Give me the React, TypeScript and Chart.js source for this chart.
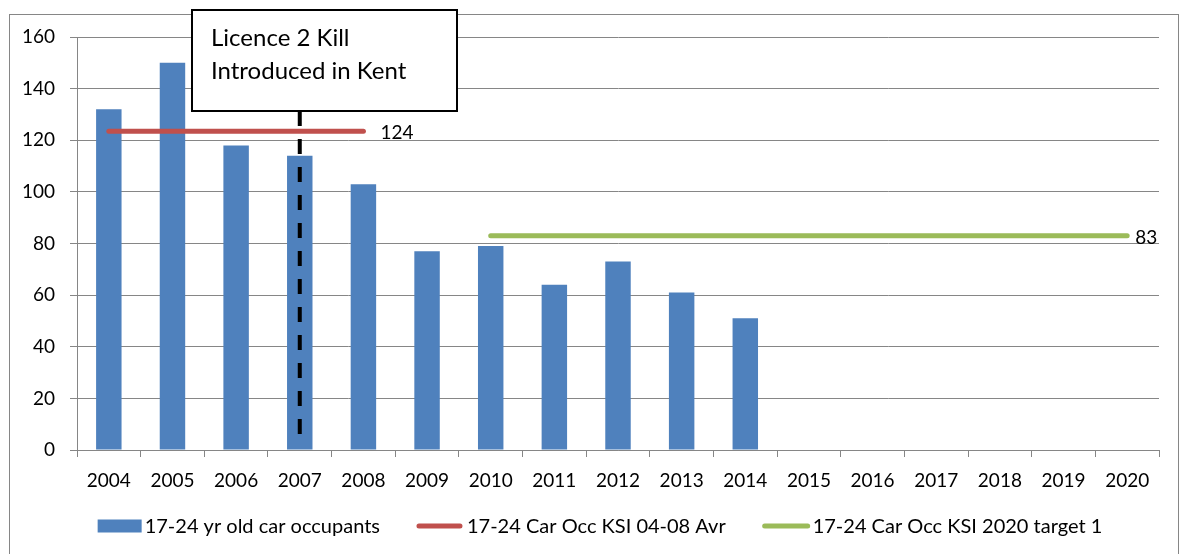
import React, { useEffect, useRef } from "react";
import { Chart, registerables } from "chart.js";

Chart.register(...registerables);

const years = ["2004", "2005", "2006", "2007", "2008", "2009", "2010", "2011", "2012", "2013", "2014", "2015", "2016", "2017", "2018", "2019", "2020"];
const occupants = [132, 150, 118, 114, 103, 77, 79, 64, 73, 61, 51, null, null, null, null, null, null];
const avg0408 = [123.5, 123.5, 123.5, 123.5, 123.5, null, null, null, null, null, null, null, null, null, null, null, null];
const target2020 = [null, null, null, null, null, null, 83, 83, 83, 83, 83, 83, 83, 83, 83, 83, 83];
const seriesNames = ["17-24 yr old car occupants", "17-24 Car Occ KSI 04-08 Avr", "17-24 Car Occ KSI 2020 target 1"];
const endLabels = [null, "124", "83"];
const yTickValues = [0, 20, 40, 60, 80, 100, 120, 140, 160];
const annotationLines = ["Licence 2 Kill", "Introduced in Kent"];
const markerYear = "2007";
const markerBottomValue = 6;

const FONT = "Lato, 'Open Sans', sans-serif";
const BLUE = "#4F81BD";
const RED = "#C0504D";
const GREEN = "#9BBB59";
const GRID = "#868686";

const framePlugin = {
  id: "frame",
  beforeDraw(chart: any) {
    const ctx = chart.ctx;
    ctx.save();
    ctx.fillStyle = "#ffffff";
    ctx.fillRect(0, 0, chart.width, chart.height);
    ctx.strokeStyle = GRID;
    ctx.lineWidth = 1;
    ctx.strokeRect(9.5, 14.5, 1169, 600);
    ctx.restore();
  },
};

const overlayPlugin = {
  id: "overlay",
  afterDatasetsDraw(chart: any) {
    const ctx = chart.ctx;
    const xs = chart.scales.x;
    const ys = chart.scales.y;
    ctx.save();
    ctx.font = `19px ${FONT}`;
    ctx.fillStyle = "#000";
    ctx.textBaseline = "middle";
    ctx.textAlign = "left";
    const offsets = [0, 17, 8];
    chart.data.datasets.forEach((ds: any, i: number) => {
      const lbl = endLabels[i];
      if (!lbl) return;
      let last = -1;
      ds.data.forEach((v: any, j: number) => { if (v != null) last = j; });
      if (last < 0) return;
      const x = xs.getPixelForValue(last) + offsets[i];
      const y = ys.getPixelForValue(ds.data[last]) + 2;
      ctx.fillText(lbl, x, y);
    });
    const mx = xs.getPixelForValue(years.indexOf(markerYear));
    ctx.strokeStyle = "#000";
    ctx.lineWidth = 4;
    ctx.setLineDash([15, 13]);
    ctx.beginPath();
    ctx.moveTo(mx, 111);
    ctx.lineTo(mx, ys.getPixelForValue(markerBottomValue));
    ctx.stroke();
    ctx.setLineDash([]);
    ctx.restore();
  },
  afterDraw(chart: any) {
    const ctx = chart.ctx;
    ctx.save();
    ctx.fillStyle = "#fff";
    ctx.fillRect(192, 10, 265, 101);
    ctx.strokeStyle = "#000";
    ctx.lineWidth = 2;
    ctx.strokeRect(192, 10, 265, 101);
    ctx.fillStyle = "#000";
    ctx.font = `24px ${FONT}`;
    ctx.textBaseline = "middle";
    ctx.textAlign = "left";
    ctx.fillText(annotationLines[0], 211, 38);
    ctx.fillText(annotationLines[1], 211, 71);

    ctx.font = `20px ${FONT}`;
    const ds = chart.data.datasets;
    const symW = [44, 45, 47];
    const symGap = [3, 5, 3];
    const itemGap = 37;
    const widths = ds.map((d: any, i: number) => symW[i] + symGap[i] + ctx.measureText(d.label).width);
    const total = widths.reduce((a: number, b: number) => a + b, 0) + itemGap * (ds.length - 1);
    let x = 600 - total / 2;
    const y = 526;
    ds.forEach((d: any, i: number) => {
      if (d.type === "line") {
        ctx.strokeStyle = d.borderColor;
        ctx.lineWidth = 5;
        ctx.lineCap = "round";
        ctx.beginPath();
        ctx.moveTo(x + 2, y);
        ctx.lineTo(x + symW[i] - 2, y);
        ctx.stroke();
      } else {
        ctx.fillStyle = d.backgroundColor;
        ctx.fillRect(x, y - 6.5, symW[i], 13);
      }
      ctx.fillStyle = "#000";
      ctx.fillText(d.label, x + symW[i] + symGap[i], y + 1);
      x += widths[i] + itemGap;
    });
    ctx.restore();
  },
};

export default function App() {
  const ref = useRef<HTMLCanvasElement | null>(null);
  useEffect(() => {
    if (!ref.current) return;
    const chart = new Chart(ref.current, {
      type: "bar",
      data: {
        labels: years,
        datasets: [
          {
            type: "bar",
            label: seriesNames[0],
            data: occupants,
            backgroundColor: BLUE,
            categoryPercentage: 0.4,
            barPercentage: 1,
            order: 3,
          },
          {
            type: "line",
            label: seriesNames[1],
            data: avg0408,
            borderColor: RED,
            backgroundColor: RED,
            borderWidth: 5,
            borderCapStyle: "round",
            pointRadius: 0,
            spanGaps: false,
            order: 2,
          },
          {
            type: "line",
            label: seriesNames[2],
            data: target2020,
            borderColor: GREEN,
            backgroundColor: GREEN,
            borderWidth: 5,
            borderCapStyle: "round",
            pointRadius: 0,
            spanGaps: false,
            order: 1,
          },
        ] as any,
      },
      options: {
        animation: false,
        responsive: false,
        maintainAspectRatio: false,
        layout: { padding: { left: 0, top: 37, right: 28, bottom: 60 } },
        plugins: {
          legend: { display: false },
          tooltip: { enabled: false },
        },
        scales: {
          x: {
            offset: true,
            grid: { display: true, drawOnChartArea: false, drawTicks: true, tickLength: 7, color: GRID, offset: true },
            border: { display: true, color: GRID, width: 1 },
            ticks: { color: "#000", font: { family: FONT, size: 19 }, padding: 12, maxRotation: 0, autoSkip: false },
            afterFit: (s: any) => { s.height = 44; },
          },
          y: {
            min: 0,
            max: 160,
            afterBuildTicks: (s: any) => { s.ticks = yTickValues.map((v) => ({ value: v })); },
            grid: { color: GRID, lineWidth: 1, drawTicks: true, tickLength: 7 },
            border: { display: true, color: GRID, width: 1 },
            ticks: { color: "#000", font: { family: FONT, size: 19 }, padding: 15 },
            afterFit: (s: any) => { s.width = 77; },
          },
        },
      },
      plugins: [framePlugin, overlayPlugin],
    });
    return () => chart.destroy();
  }, []);
  return (
    <div style={{ position: "absolute", left: 0, top: 0, width: 1187, height: 554 }}>
      <canvas ref={ref} width={1187} height={554} style={{ width: 1187, height: 554, display: "block" }} />
    </div>
  );
}
